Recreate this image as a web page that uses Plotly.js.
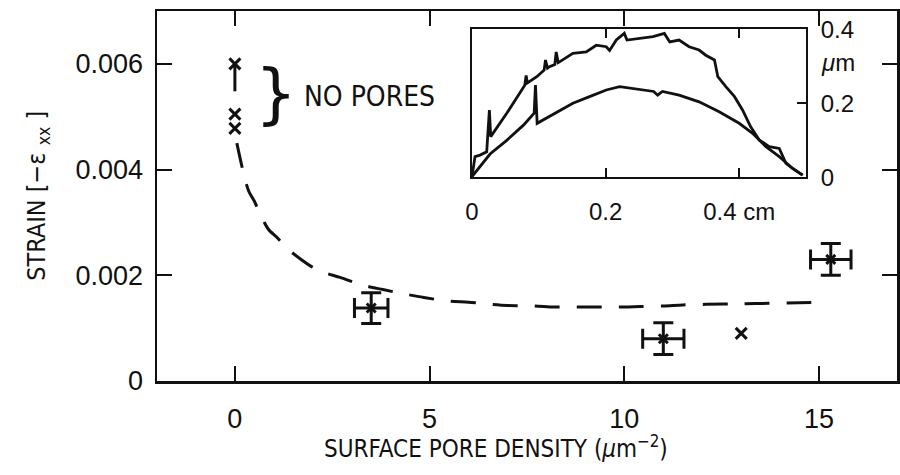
<!DOCTYPE html>
<html><head><meta charset="utf-8">
<script src="https://cdn.plot.ly/plotly-3.0.1.min.js"></script>
<style>html,body{margin:0;padding:0;background:#fff;}#chart{width:900px;height:475px;}</style>
</head><body><div id="chart"></div>
<script>
// --- main plot data ---
const noPoreX = [0, 0, 0];
const noPoreY = [0.006, 0.00505, 0.00478];
const noPoreErrMinus = [0.00052, 0, 0];

const poreX = [3.5, 11.0, 15.3];
const poreY = [0.00138, 0.0008, 0.0023];
const poreErrY = [0.00029, 0.0003, 0.0003];
const poreErrX = [0.43, 0.53, 0.52];

const singleX = [13.0];
const singleY = [0.0009];

const fitX = [0.05, 0.2, 0.35, 0.5, 0.65, 0.85, 1.1, 1.35, 1.7, 2.0, 2.3, 2.7, 3.3, 3.8, 4.4, 4.85, 5.5, 6.0, 6.6, 7.0, 7.7, 8.2, 9.0, 10.0, 10.4, 11.0, 11.5, 12.1, 13.0, 13.7, 15.0];
const fitY = [0.0045, 0.0040, 0.0036, 0.0034, 0.00316, 0.00288, 0.0027, 0.0025, 0.0023, 0.00215, 0.00205, 0.00196, 0.00181, 0.00173, 0.00164, 0.00158, 0.00151, 0.00149, 0.00145, 0.00143, 0.00142, 0.0014, 0.0014, 0.0014, 0.00141, 0.00142, 0.00144, 0.00145, 0.00146, 0.00147, 0.00149];

const yTickVals = [0, 0.002, 0.004, 0.006];
const yTickText = ["0", "0.002", "0.004", "0.006"];
const xTickVals = [0, 5, 10, 15];
const xTickText = ["0", "5", "10", "15"];

// --- inset profile data (cm, um) ---
const upperX = [0, 0.0045, 0.012, 0.022, 0.026, 0.028, 0.052, 0.079, 0.081, 0.083, 0.097, 0.108, 0.11, 0.113, 0.116, 0.124, 0.126, 0.129, 0.131, 0.151, 0.171, 0.186, 0.201, 0.206, 0.216, 0.228, 0.232, 0.251, 0.271, 0.288, 0.296, 0.31, 0.325, 0.34, 0.35, 0.363, 0.368, 0.38, 0.393, 0.405, 0.417, 0.43, 0.445, 0.46, 0.47, 0.48, 0.495];
const upperY = [0.002, 0.056, 0.06, 0.069, 0.182, 0.11, 0.173, 0.249, 0.275, 0.255, 0.272, 0.29, 0.317, 0.295, 0.299, 0.305, 0.339, 0.31, 0.312, 0.335, 0.339, 0.357, 0.353, 0.343, 0.371, 0.389, 0.371, 0.376, 0.38, 0.389, 0.366, 0.371, 0.353, 0.344, 0.33, 0.317, 0.272, 0.245, 0.218, 0.182, 0.137, 0.101, 0.083, 0.078, 0.038, 0.024, 0.006];
const lowerX = [0, 0.012, 0.027, 0.052, 0.077, 0.093, 0.095, 0.0975, 0.116, 0.151, 0.176, 0.201, 0.221, 0.241, 0.261, 0.272, 0.278, 0.285, 0.31, 0.34, 0.37, 0.4, 0.42, 0.44, 0.46, 0.48, 0.495];
const lowerY = [0.002, 0.029, 0.063, 0.10, 0.141, 0.173, 0.249, 0.146, 0.164, 0.2, 0.218, 0.236, 0.245, 0.24, 0.236, 0.232, 0.222, 0.232, 0.222, 0.204, 0.177, 0.146, 0.119, 0.083, 0.056, 0.024, 0.006];

const insetXTickVals = [0, 0.2, 0.4];
const insetXTickText = ["0", "0.2", "0.4 cm"];
const insetYTickVals = [0, 0.2, 0.4];
const insetYTickText = ["0", "0.2", "0.4"];

const black = '#111';
const tickFont = {family: 'Liberation Sans, Arial, sans-serif', size: 27, color: black};
const narrow = 'DejaVu Sans Condensed, Liberation Sans Narrow, Arial Narrow, sans-serif';

const traces = [
  {x: fitX, y: fitY, mode: 'lines', line: {color: black, width: 3, dash: '25px,17px', shape: 'spline', smoothing: 0.8}, hoverinfo: 'skip'},
  {x: noPoreX, y: noPoreY, mode: 'markers', marker: {symbol: 'x-thin-open', size: 11, color: black, line: {color: black, width: 3}},
   error_y: {type: 'data', symmetric: false, array: [0, 0, 0], arrayminus: noPoreErrMinus, color: black, thickness: 3, width: 0}},
  {x: poreX, y: poreY, mode: 'markers', marker: {symbol: 'x-thin-open', size: 9, color: black, line: {color: black, width: 3}},
   error_y: {type: 'data', array: poreErrY, color: black, thickness: 3, width: 10},
   error_x: {type: 'data', array: poreErrX, color: black, thickness: 3, width: 10}},
  {x: singleX, y: singleY, mode: 'markers', marker: {symbol: 'x-thin-open', size: 11, color: black, line: {color: black, width: 3}}},
  {x: upperX, y: upperY, xaxis: 'x2', yaxis: 'y2', mode: 'lines', line: {color: black, width: 2.8}},
  {x: lowerX, y: lowerY, xaxis: 'x2', yaxis: 'y2', mode: 'lines', line: {color: black, width: 2.8}}
];

const layout = {
  width: 900, height: 475,
  margin: {l: 157, r: 3, t: 11, b: 94},
  paper_bgcolor: '#fff', plot_bgcolor: '#fff',
  showlegend: false,
  font: {family: 'Liberation Sans, Arial, sans-serif', color: black},
  xaxis: {range: [-2, 17], tickvals: xTickVals, ticktext: xTickText, ticks: 'inside', ticklen: 15, tickwidth: 2, tickcolor: black,
          showline: true, linewidth: 2.5, linecolor: black, mirror: 'ticks', showgrid: false, zeroline: false, tickfont: tickFont, ticklabelstandoff: 12},
  yaxis: {range: [0, 0.007], tickvals: yTickVals, ticktext: yTickText, ticks: 'inside', ticklen: 15, tickwidth: 2, tickcolor: black,
          showline: true, linewidth: 2.5, linecolor: black, mirror: 'ticks', showgrid: false, zeroline: false, tickfont: tickFont, ticklabelstandoff: 6},
  xaxis2: {domain: [0.4257, 0.877], anchor: 'y2', range: [0, 0.5], tickvals: insetXTickVals, ticktext: insetXTickText,
           ticks: 'inside', ticklen: 9, tickwidth: 2, tickcolor: black, showline: true, linewidth: 2, linecolor: black, mirror: 'ticks',
           showgrid: false, zeroline: false, ticklabelstandoff: 12, tickfont: {family: 'Liberation Sans, Arial, sans-serif', size: 24, color: black}},
  yaxis2: {domain: [0.5505, 0.9505], anchor: 'x2', side: 'right', range: [0, 0.4], tickvals: insetYTickVals, ticktext: insetYTickText,
           ticks: 'inside', ticklen: 9, tickwidth: 2, tickcolor: black, showline: true, linewidth: 2, linecolor: black, mirror: true,
           showgrid: false, zeroline: false, ticklabelstandoff: 8, tickfont: {family: 'Liberation Sans, Arial, sans-serif', size: 24, color: black}},
  annotations: [
    {text: 'SURFACE PORE DENSITY (<i>μ</i>m<sup>−2</sup>)', xref: 'paper', yref: 'paper', x: 0.458, y: -0.178, xanchor: 'center', yanchor: 'middle',
     showarrow: false, font: {family: narrow, size: 24, color: black}},
    {text: 'STRAIN [−ε <sub>xx</sub> ]', xref: 'paper', yref: 'paper', x: -0.161, y: 0.5, xanchor: 'center', yanchor: 'middle', textangle: -90,
     showarrow: false, font: {family: narrow, size: 25, color: black}},
    {text: 'NO PORES', xref: 'paper', yref: 'paper', x: 0.196, y: 0.770, xanchor: 'left', yanchor: 'middle',
     showarrow: false, font: {family: narrow, size: 28, color: black}},
    {text: '}', xref: 'paper', yref: 'paper', x: 0.161, y: 0.778, xanchor: 'center', yanchor: 'middle',
     showarrow: false, font: {family: 'DejaVu Sans, sans-serif', size: 66, color: black}},
    {text: '<i>μ</i>m', xref: 'paper', yref: 'paper', x: 0.895, y: 0.862, xanchor: 'left', yanchor: 'middle',
     showarrow: false, font: {family: 'Liberation Sans, Arial, sans-serif', size: 24, color: black}}
  ]
};

Plotly.newPlot('chart', traces, layout, {displayModeBar: false, staticPlot: true});
</script>
</body></html>
